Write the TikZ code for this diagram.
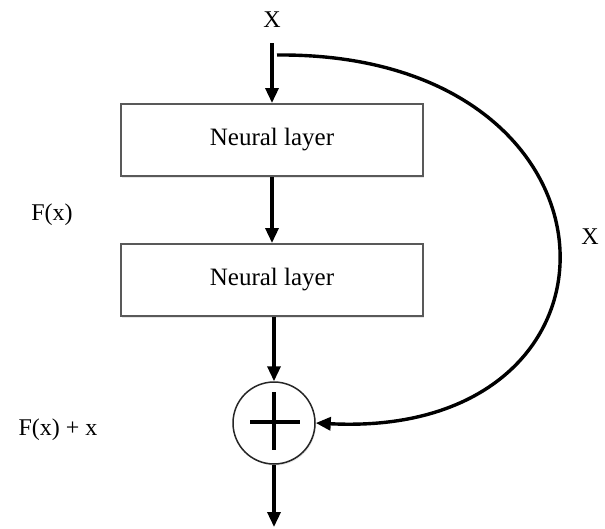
\documentclass[tikz,border=0pt]{standalone}
\usepackage{fontspec}
\setmainfont{Liberation Serif}
\usetikzlibrary{arrows.meta,shadows}
\begin{document}
\begin{tikzpicture}[x=1pt,y=-1pt,
  layer/.style={draw=black!65,line width=2pt,fill=white,minimum width=302pt,minimum height=72pt,inner sep=0pt,font=\fontsize{25}{27}\selectfont,drop shadow={shadow xshift=0.5pt,shadow yshift=-1.5pt,opacity=0.2}},
  lbl/.style={font=\fontsize{24}{26}\selectfont,inner sep=0pt},
  tip/.style={-{Triangle[length=15pt,width=13pt]}},
  conn/.style={line width=3.4pt,tip},
  sumnode/.style={circle,draw=black!85,line width=1.5pt,fill=white,minimum size=82pt,inner sep=0pt,drop shadow={shadow xshift=1pt,shadow yshift=-1.5pt,opacity=0.2}}]
\useasboundingbox (0,0) rectangle (605,528);
\node[lbl] (xin) at (272,20) {X};
\coordinate (start) at (272,43);
\node[layer] (l1) at (272,140) {Neural layer};
\node[layer] (l2) at (272,280) {Neural layer};
\node[sumnode] (sum) at (274,423) {};
\draw[line width=3.2pt] (250,422) -- (300,422) (274,392) -- (274,450);
\coordinate (out) at (274,527);
\node[lbl] (fx) at (52,215) {F(x)};
\node[lbl] (fxx) at (58,430) {F(x) + x};
\node[lbl] (xskip) at (590,237) {X};
\draw[conn] (start) -- (l1.north);
\draw[conn] (l1.south) -- (l2.north);
\draw[conn] ([xshift=2pt]l2.south) -- (sum.north);
\draw[conn] (sum.south) -- (out);
\draw[conn] (277,55) .. controls (640,52) and (650,440) .. (sum.east);
\end{tikzpicture}
\end{document}
